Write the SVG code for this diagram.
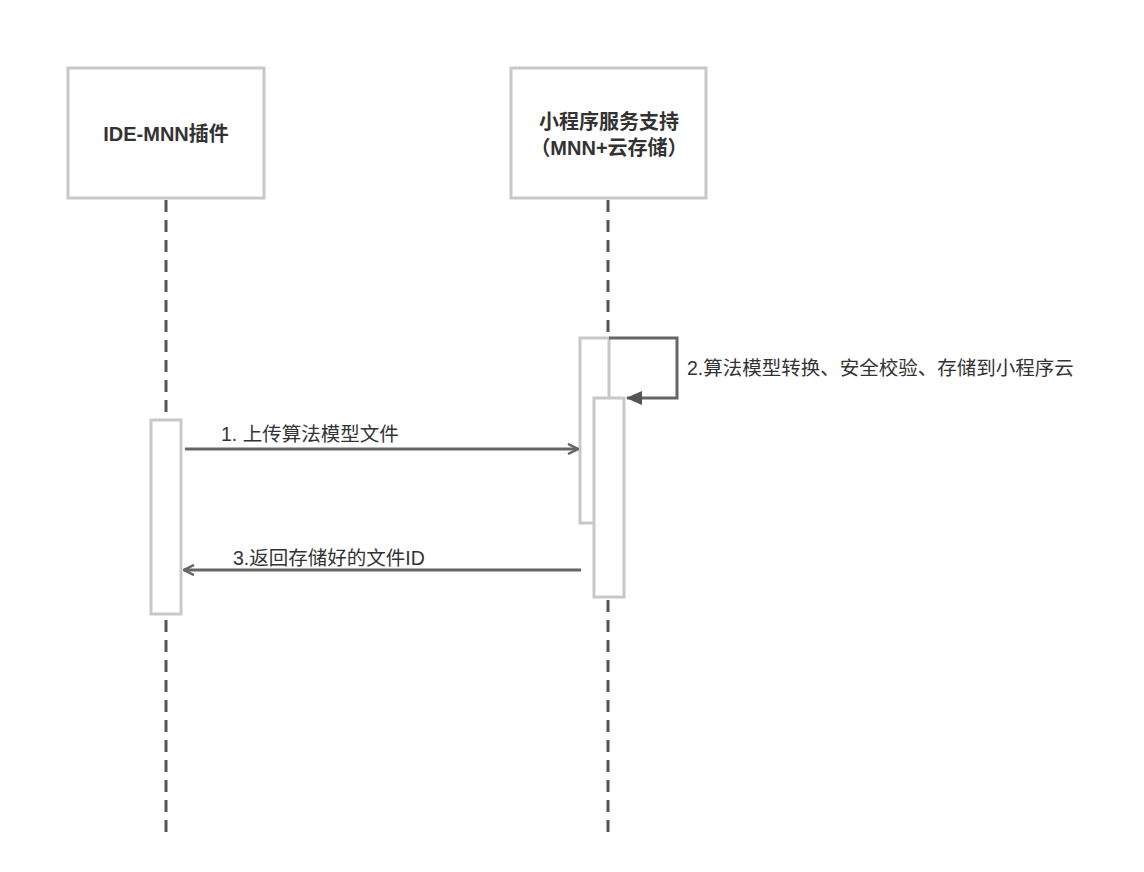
<svg xmlns="http://www.w3.org/2000/svg" width="1144" height="872" viewBox="0 0 1144 872">
<style>
.box{fill:#fff;stroke:#c8c8c8;stroke-width:3}
.act{fill:#fff;stroke:#c8c8c8;stroke-width:3}
.life{stroke:#555;stroke-width:3;stroke-dasharray:12 8;fill:none}
.msg{stroke:#666;stroke-width:3;fill:none}
.t{font-family:"Liberation Sans","Noto Sans CJK SC",sans-serif;fill:#333}
.title{font-size:20px;font-weight:bold;text-anchor:middle}
.lbl{font-size:19.5px}
</style>
<defs>
<marker id="open" viewBox="0 0 12 12" refX="11" refY="6" markerWidth="12" markerHeight="12" markerUnits="userSpaceOnUse" orient="auto">
<path d="M1,1 L11,6 L1,11" fill="none" stroke="#666" stroke-width="2.5"/>
</marker>
<marker id="fill" viewBox="0 0 16 14" refX="15" refY="7" markerWidth="16" markerHeight="14" markerUnits="userSpaceOnUse" orient="auto">
<path d="M0,0 L16,7 L0,14 Z" fill="#555"/>
</marker>
</defs>
<rect width="1144" height="872" fill="#fff"/>
<g id="connectors">
<line class="life" x1="166" y1="200" x2="166" y2="838"/>
<line class="life" x1="608" y1="200" x2="608" y2="838"/>
</g>
<g id="node-ide">
<rect class="box" x="68" y="68" width="196" height="130"/>
<text class="t title" x="166" y="141">IDE-MNN插件</text>
</g>
<g id="node-service">
<rect class="box" x="511" y="68" width="195" height="130"/>
<text class="t title" x="609" y="129">小程序服务支持</text>
<text class="t title" x="609" y="155">（MNN+云存储）</text>
</g>
<g id="act-ide">
<rect class="act" x="151" y="420" width="30" height="194"/>
</g>
<g id="act-service-outer">
<rect class="act" x="580" y="338" width="29" height="185"/>
</g>
<g id="act-service-inner">
<rect class="act" x="594" y="398" width="30" height="199"/>
</g>
<g id="messages">
<line class="msg" x1="185" y1="449" x2="578" y2="449" marker-end="url(#open)"/>
<text class="t lbl" x="221" y="441">1. 上传算法模型文件</text>
<path class="msg" d="M609,338 H677 V398 H627" stroke="#555" marker-end="url(#fill)"/>
<text class="t lbl" x="687" y="375">2.算法模型转换、安全校验、存储到小程序云</text>
<line class="msg" x1="581" y1="570" x2="184" y2="570" marker-end="url(#open)"/>
<text class="t lbl" x="233" y="565">3.返回存储好的文件ID</text>
</g>
</svg>
